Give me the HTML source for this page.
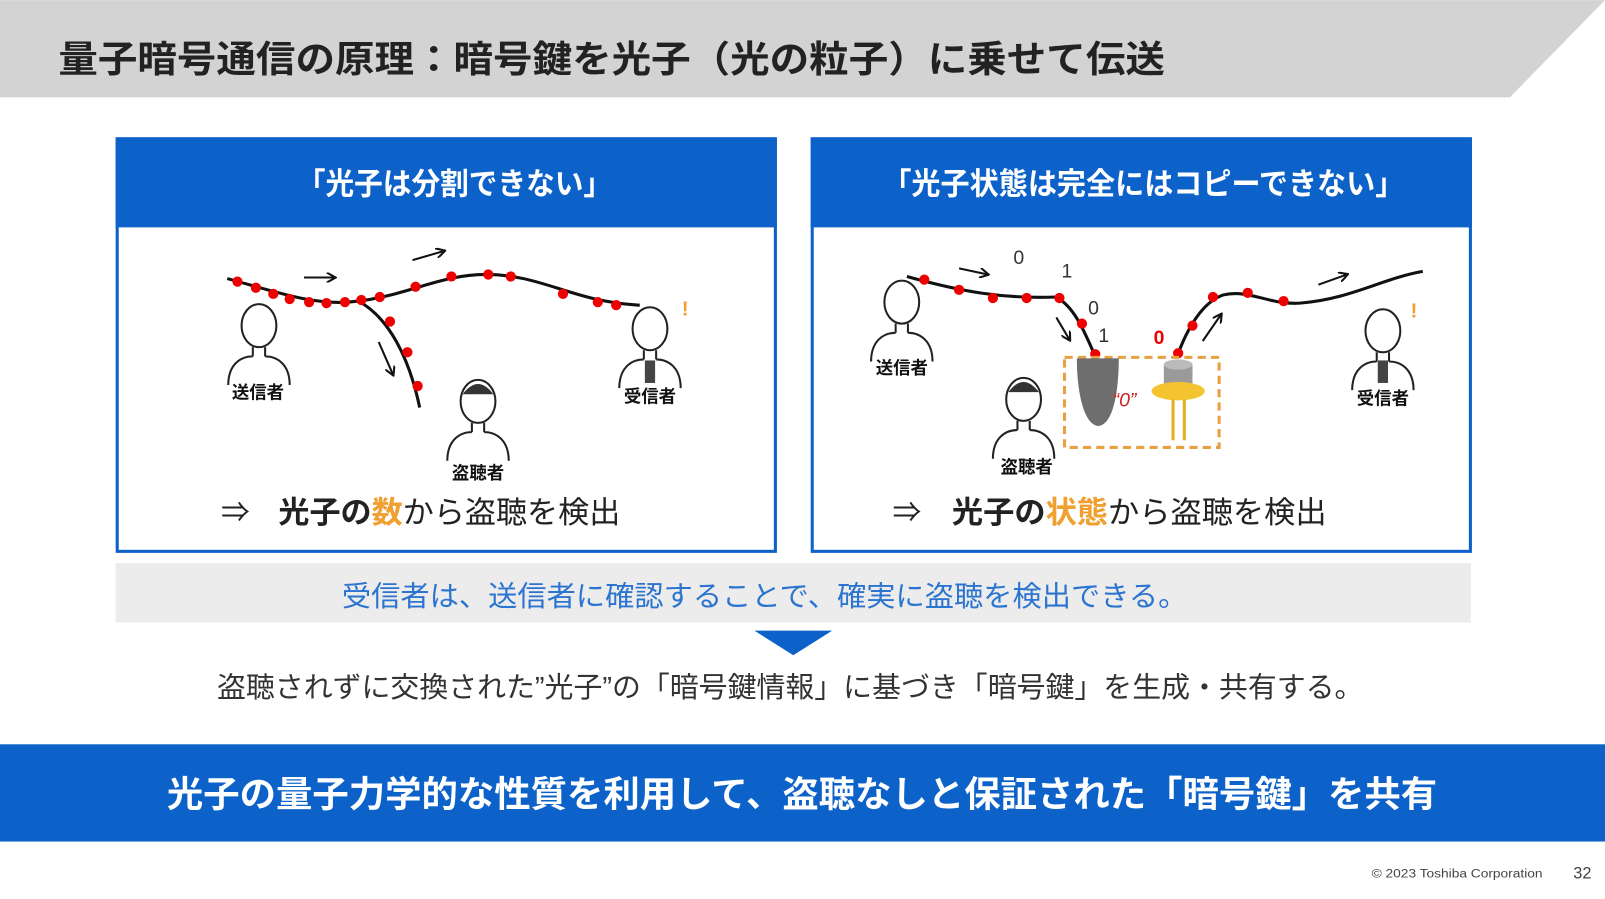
<!DOCTYPE html>
<html><head><meta charset="utf-8"><style>
html,body{margin:0;padding:0;background:#fff;}
svg{display:block;}
text{font-family:"Liberation Sans","Noto Sans CJK JP",sans-serif;}
</style></head><body>
<svg width="1605" height="899" viewBox="0 0 1568 878" xmlns="http://www.w3.org/2000/svg">
<defs>
<marker id="ah" markerWidth="10" markerHeight="10" refX="8" refY="5" orient="auto" markerUnits="userSpaceOnUse"><path d="M0,0 L9,5 L0,10" fill="none" stroke="#111" stroke-width="2"/></marker>
<g id="person" fill="none" stroke="#222" stroke-width="2">
<ellipse cx="0" cy="0" rx="17" ry="21"/>
<path d="M-6,21 L-6,30 M6,21 L6,30 M-30,58 C-30,38 -18,30 -6,30 M30,58 C30,38 18,30 6,30"/>
</g>
</defs>
<rect width="1568" height="878" fill="#fff"/>
<!-- header -->
<polygon points="0,0 1568,0 1475,95 0,95" fill="#d3d3d3"/>
<text x="57" y="70" font-size="36" font-weight="bold" fill="#222" textLength="1081" lengthAdjust="spacingAndGlyphs">量子暗号通信の原理：暗号鍵を光子（光の粒子）に乗せて伝送</text>

<!-- left box -->
<rect x="114.5" y="135.5" width="643" height="403" fill="#fff" stroke="#0d62c9" stroke-width="3"/>
<rect x="113" y="134" width="646" height="88" fill="#0d62c9"/>
<text x="290" y="190" font-size="30" font-weight="bold" fill="#fff" textLength="308" lengthAdjust="spacingAndGlyphs">「光子は分割できない」</text>
<!-- right box -->
<rect x="793.5" y="135.5" width="643" height="403" fill="#fff" stroke="#0d62c9" stroke-width="3"/>
<rect x="792" y="134" width="646" height="88" fill="#0d62c9"/>
<text x="862" y="190" font-size="30" font-weight="bold" fill="#fff" textLength="510" lengthAdjust="spacingAndGlyphs">「光子状態は完全にはコピーできない」</text>

<!-- left illustration -->
<path d="M222,272 C270,285 310,300 350,294 C400,288 430,268 475,268 C530,268 560,295 625,298" fill="none" stroke="#111" stroke-width="3"/>
<path d="M350,294 C380,310 400,350 410,398" fill="none" stroke="#111" stroke-width="3"/>
<g fill="#e00">
<circle cx="232" cy="275" r="5"/><circle cx="250" cy="281" r="5"/><circle cx="267" cy="287" r="5"/><circle cx="283" cy="292" r="5"/><circle cx="302" cy="295" r="5"/><circle cx="319" cy="296" r="5"/><circle cx="337" cy="295" r="5"/><circle cx="353" cy="293" r="5"/><circle cx="371" cy="290" r="5"/><circle cx="406" cy="280" r="5"/><circle cx="441" cy="270" r="5"/><circle cx="477" cy="268" r="5"/><circle cx="499" cy="270" r="5"/><circle cx="550" cy="287" r="5"/><circle cx="584" cy="295" r="5"/><circle cx="602" cy="298" r="5"/>
<circle cx="381" cy="314" r="5"/><circle cx="398" cy="344" r="5"/><circle cx="408" cy="377" r="5"/>
</g>
<line x1="297" y1="271" x2="327" y2="271" stroke="#111" stroke-width="2" marker-end="url(#ah)"/>
<line x1="403" y1="254" x2="434" y2="245" stroke="#111" stroke-width="2" marker-end="url(#ah)"/>
<line x1="370" y1="334" x2="384" y2="366" stroke="#111" stroke-width="2" marker-end="url(#ah)"/>
<use href="#person" x="253" y="318"/>
<use href="#person" x="467" y="392"/>
<path d="M452,385 Q467,365 482,385 Z" fill="#333"/>
<use href="#person" x="635" y="321"/>
<rect x="630" y="352" width="10" height="22" fill="#444"/>
<text x="666" y="308" font-size="20" font-weight="bold" fill="#f0a030">!</text>
<text x="252" y="389" font-size="17" font-weight="bold" fill="#111" text-anchor="middle">送信者</text>
<text x="467" y="468" font-size="17" font-weight="bold" fill="#111" text-anchor="middle">盗聴者</text>
<text x="635" y="393" font-size="17" font-weight="bold" fill="#111" text-anchor="middle">受信者</text>
<text x="216" y="510" font-size="28" fill="#222">⇒</text>
<text x="272" y="511" font-size="30" fill="#222" textLength="334" lengthAdjust="spacingAndGlyphs"><tspan font-weight="bold">光子の</tspan><tspan font-weight="bold" fill="#f0a030">数</tspan>から盗聴を検出</text>

<!-- right illustration -->
<path d="M886,270 C940,285 980,292 1032,290 C1050,300 1060,325 1070,348" fill="none" stroke="#111" stroke-width="3"/>
<path d="M1150,348 C1160,320 1175,295 1195,288 C1220,282 1240,298 1270,296 C1320,292 1350,272 1390,265" fill="none" stroke="#111" stroke-width="3"/>
<g fill="#e00">
<circle cx="903" cy="273" r="5"/><circle cx="937" cy="283" r="5"/><circle cx="970" cy="291" r="5"/><circle cx="1003" cy="291" r="5"/><circle cx="1035" cy="291" r="5"/><circle cx="1057" cy="316" r="5"/><circle cx="1070" cy="346" r="5"/>
<circle cx="1151" cy="345" r="5"/><circle cx="1165" cy="318" r="5"/><circle cx="1185" cy="290" r="5"/><circle cx="1219" cy="286" r="5"/><circle cx="1254" cy="294" r="5"/>
</g>
<line x1="937" y1="262" x2="965" y2="268" stroke="#111" stroke-width="2" marker-end="url(#ah)"/>
<line x1="1032" y1="310" x2="1045" y2="332" stroke="#111" stroke-width="2" marker-end="url(#ah)"/>
<line x1="1175" y1="333" x2="1193" y2="307" stroke="#111" stroke-width="2" marker-end="url(#ah)"/>
<line x1="1288" y1="278" x2="1316" y2="268" stroke="#111" stroke-width="2" marker-end="url(#ah)"/>
<g font-family="Liberation Serif, serif" font-size="19" fill="#333">
<text x="990" y="258">0</text><text x="1037" y="271">1</text><text x="1063" y="307">0</text><text x="1073" y="334">1</text>
</g>
<text x="1127" y="336" font-size="19" font-weight="bold" fill="#e00">0</text>
<rect x="1040" y="349" width="151" height="88" fill="none" stroke="#e8a040" stroke-width="3" stroke-dasharray="8,5"/>
<path d="M1052,350 L1093,350 C1093,380 1088,415 1073,416 C1058,415 1052,380 1052,350 Z" fill="#6e6e6e"/>
<text x="1087" y="397" font-size="19" fill="#d02020" font-style="italic">“0”</text>
<rect x="1137" y="355" width="28" height="24" fill="#9a9a9a"/>
<ellipse cx="1151" cy="356" rx="14" ry="5" fill="#bbb"/>
<ellipse cx="1151" cy="382" rx="26" ry="9" fill="#f4c430"/>
<line x1="1146" y1="390" x2="1146" y2="430" stroke="#e4b020" stroke-width="3"/>
<line x1="1157" y1="390" x2="1157" y2="430" stroke="#e4b020" stroke-width="3"/>
<use href="#person" x="881" y="295"/>
<use href="#person" x="1000" y="390"/>
<path d="M985,383 Q1000,363 1015,383 Z" fill="#333"/>
<use href="#person" x="1351" y="323"/>
<rect x="1346" y="352" width="10" height="22" fill="#444"/>
<text x="1378" y="310" font-size="20" font-weight="bold" fill="#f0a030">!</text>
<text x="881" y="365" font-size="17" font-weight="bold" fill="#111" text-anchor="middle">送信者</text>
<text x="1003" y="462" font-size="17" font-weight="bold" fill="#111" text-anchor="middle">盗聴者</text>
<text x="1351" y="395" font-size="17" font-weight="bold" fill="#111" text-anchor="middle">受信者</text>
<text x="872" y="510" font-size="28" fill="#222">⇒</text>
<text x="930" y="511" font-size="30" fill="#222" textLength="366" lengthAdjust="spacingAndGlyphs"><tspan font-weight="bold">光子の</tspan><tspan font-weight="bold" fill="#f0a030">状態</tspan>から盗聴を検出</text>

<!-- gray band -->
<rect x="113" y="550" width="1324" height="58" fill="#ececec"/>
<text x="334" y="592" font-size="28" fill="#2b74d0" textLength="826" lengthAdjust="spacingAndGlyphs">受信者は、送信者に確認することで、確実に盗聴を検出できる。</text>
<polygon points="737,616 813,616 775,640" fill="#0d62c9"/>
<text x="212" y="681" font-size="28" fill="#333" textLength="1120" lengthAdjust="spacingAndGlyphs">盗聴されずに交換された”光子”の「暗号鍵情報」に基づき「暗号鍵」を生成・共有する。</text>

<!-- bottom band -->
<rect x="0" y="727" width="1568" height="95" fill="#0d62c9"/>
<text x="163" y="788" font-size="35" font-weight="bold" fill="#fff" textLength="1241" lengthAdjust="spacingAndGlyphs">光子の量子力学的な性質を利用して、盗聴なしと保証された「暗号鍵」を共有</text>

<text x="1340" y="857" font-size="12" fill="#444" textLength="167" lengthAdjust="spacingAndGlyphs">© 2023 Toshiba Corporation</text>
<text x="1537" y="858" font-size="16" fill="#444">32</text>
</svg>
</body></html>
